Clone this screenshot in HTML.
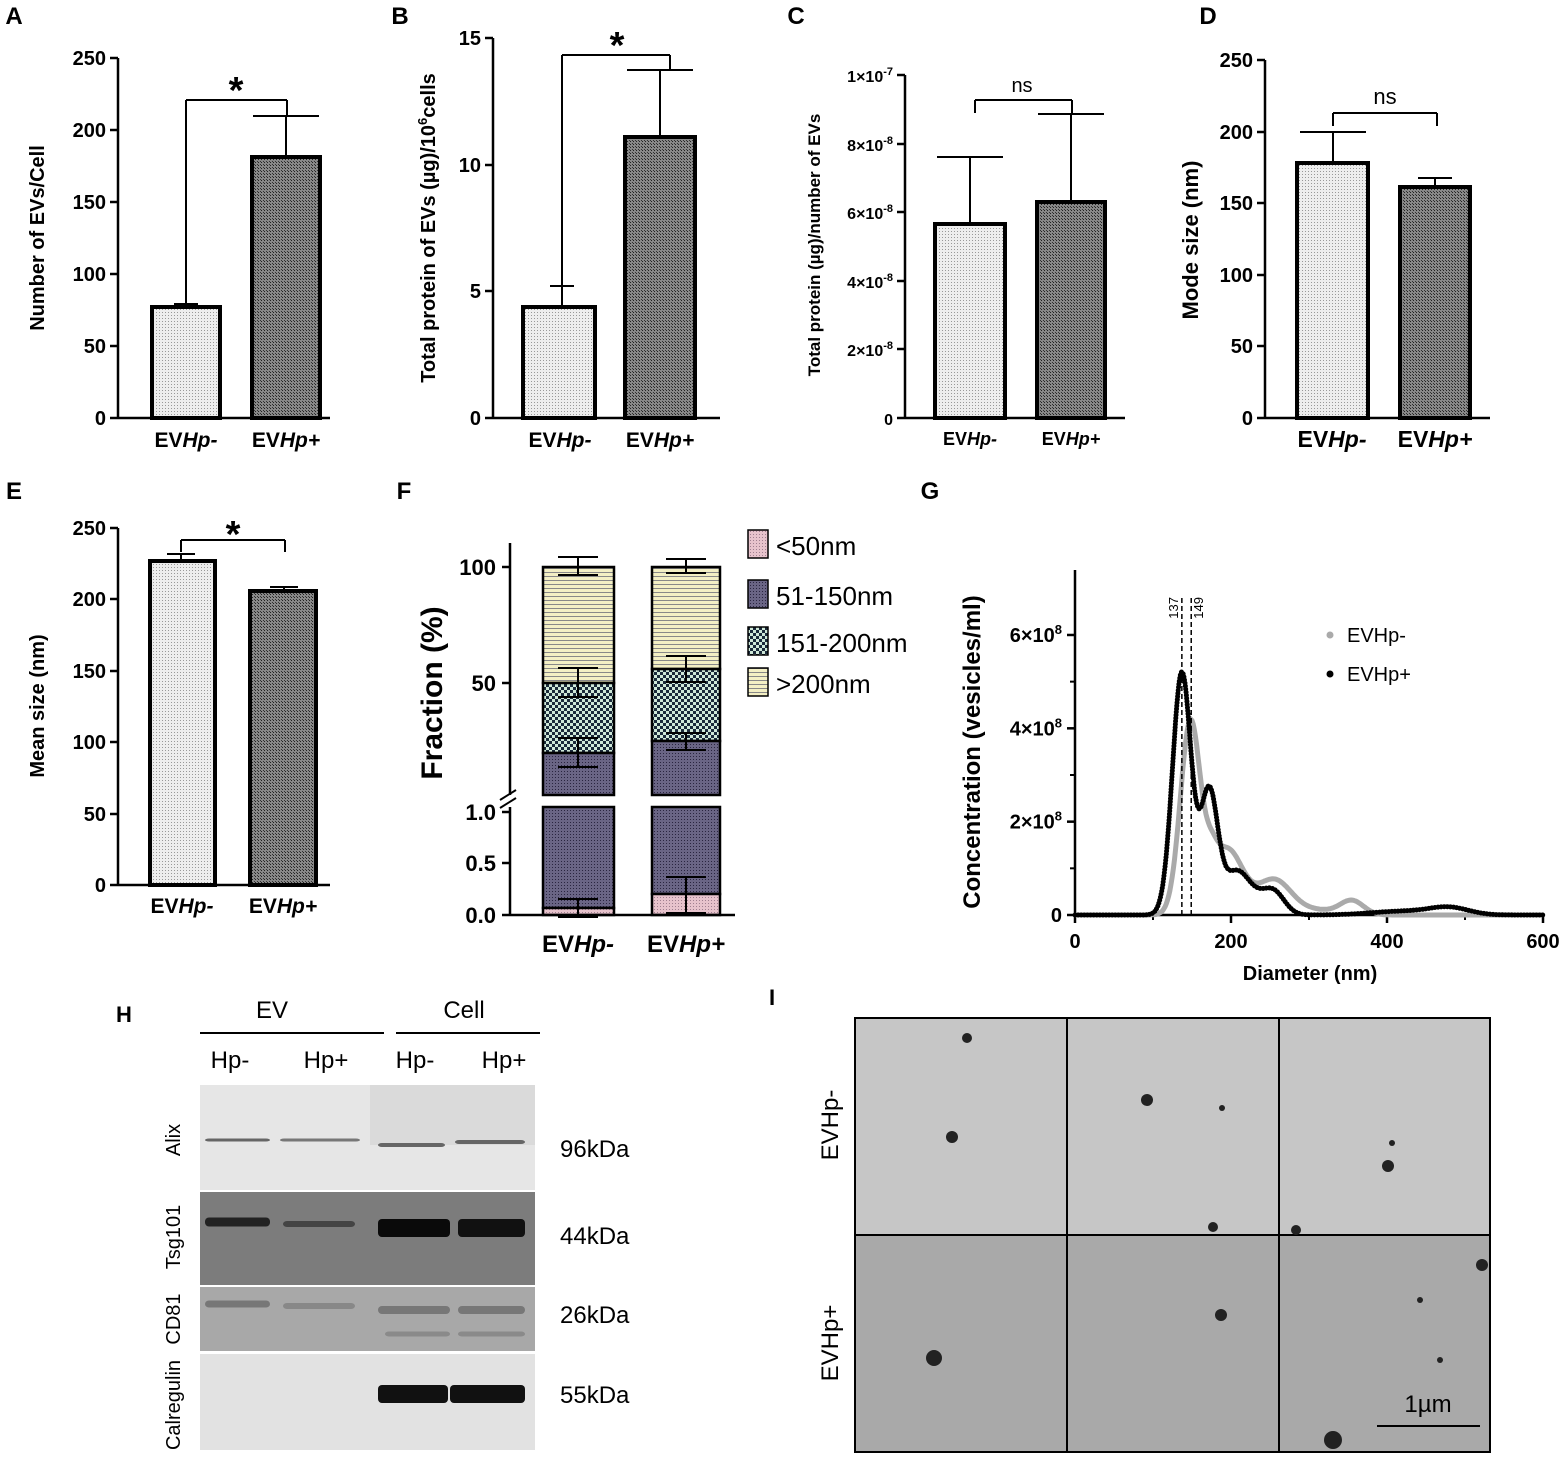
<!DOCTYPE html>
<html><head><meta charset="utf-8"><style>
body{margin:0;background:#fff}
svg{display:block;font-family:"Liberation Sans",Arial,sans-serif}
</style></head><body>
<svg id="s" width="1562" height="1464" viewBox="0 0 1562 1464" xmlns="http://www.w3.org/2000/svg">
<defs>
<pattern id="lt" width="3" height="3" patternUnits="userSpaceOnUse"><rect width="3" height="3" fill="#eee"/><rect width="1" height="1" fill="#999"/></pattern>
<pattern id="dk" width="3" height="3" patternUnits="userSpaceOnUse"><rect width="3" height="3" fill="#888"/><rect width="1" height="1" fill="#222"/><rect x="2" y="2" width="1" height="1" fill="#333"/></pattern>
<pattern id="yl" width="4" height="4" patternUnits="userSpaceOnUse"><rect width="4" height="4" fill="#f3efc4"/><rect width="4" height="1" fill="#888"/></pattern>
<pattern id="ck" width="6" height="6" patternUnits="userSpaceOnUse"><rect width="6" height="6" fill="#cfe8d8"/><rect width="3" height="3" fill="#1a2a3a"/><rect x="3" y="3" width="3" height="3" fill="#1a2a3a"/></pattern>
<pattern id="pu" width="3" height="3" patternUnits="userSpaceOnUse"><rect width="3" height="3" fill="#6a6585"/><rect width="1" height="1" fill="#2a2540"/></pattern>
<pattern id="pk" width="3" height="3" patternUnits="userSpaceOnUse"><rect width="3" height="3" fill="#e7c3cc"/><rect width="1" height="1" fill="#a08090"/></pattern>
</defs>
<g id="g"></g>
</svg>
<script>
const G=document.getElementById('g');
let h='';
function L(x1,y1,x2,y2,w,c,extra){h+=`<line x1="${x1}" y1="${y1}" x2="${x2}" y2="${y2}" stroke="${c||'#000'}" stroke-width="${w||2.5}" ${extra||''}/>`;}
function T(x,y,t,o){o=o||{};h+=`<text x="${x}" y="${y}" font-size="${o.s||20}" text-anchor="${o.a||'middle'}" font-weight="${o.w||'bold'}" ${o.r?`transform="rotate(-90 ${x} ${y})"`:''} fill="${o.c||'#000'}">${t}</text>`;}
function R(x,y,w,hh,f,sw){h+=`<rect x="${x}" y="${y}" width="${w}" height="${hh}" fill="${f}" stroke="#000" stroke-width="${sw==null?4:sw}"/>`;}
function yaxis(x,yt,yb,ticks,labs,fs){L(x,yt,x,yb);ticks.forEach((y,i)=>{L(x-8,y,x,y);T(x-12,y+7,labs[i],{a:'end',s:fs||20});});}
function evlab(x,y,t,fs){h+=`<text x="${x}" y="${y}" font-size="${fs||21}" text-anchor="middle" font-weight="bold">EV<tspan font-style="italic">Hp${t}</tspan></text>`;}
function err(x,y1,y2,w){L(x,y1,x,y2,2);L(x-w,y2,x+w,y2,2);}
// A
T(14,24,'A',{s:24});
R(152,307,68,111,'url(#lt)');R(252,157,68,261,'url(#dk)');
err(186,307,304,12);err(286,157,116,33);
yaxis(118,58,418,[58,130,202,274,346,418],['250','200','150','100','50','0']);L(118,418,330,418);
L(186,100,287,100,2);L(186,100,186,304,2);L(287,100,287,116,2);T(236,103,'*',{s:38});
evlab(186,447,'-');evlab(286,447,'+');
T(44,238,'Number of EVs/Cell',{r:1,s:20});
// B
T(400,24,'B',{s:24});
R(523,307,72,111,'url(#lt)');R(625,137,70,281,'url(#dk)');
err(562,307,286,12);err(660,137,70,33);
yaxis(493,38,418,[38,165,291,418],['15','10','5','0']);L(493,418,720,418);
L(562,55,670,55,2);L(562,55,562,286,2);L(670,55,670,70,2);T(617,58,'*',{s:38});
evlab(560,447,'-');evlab(660,447,'+');
h+=`<text transform="rotate(-90 435 228)" x="435" y="228" font-size="20" font-weight="bold" text-anchor="middle">Total protein of EVs (µg)/10<tspan font-size="13" dy="-8">6</tspan><tspan dy="8">cells</tspan></text>`;
// C
T(796,24,'C',{s:24});
R(935,224,70,194,'url(#lt)');R(1037,202,68,216,'url(#dk)');
err(970,224,157,33);err(1071,202,114,33);
const cl=['1×10<tspan font-size="11" dy="-7">-7</tspan>','8×10<tspan font-size="11" dy="-7">-8</tspan>','6×10<tspan font-size="11" dy="-7">-8</tspan>','4×10<tspan font-size="11" dy="-7">-8</tspan>','2×10<tspan font-size="11" dy="-7">-8</tspan>','0'];
yaxis(905,75,418,[75,144,212,281,349,418],cl,16);L(905,418,1125,418);
L(975,100,1072,100,2);L(975,100,975,113,2);L(1072,100,1072,113,2);T(1022,92,'ns',{w:'normal',s:20});
evlab(970,445,'-',18);evlab(1071,445,'+',18);
T(820,245,'Total protein (µg)/number of EVs',{r:1,s:17});
// D
T(1208,24,'D',{s:24});
R(1297,163,71,255,'url(#lt)');R(1400,187,70,231,'url(#dk)');
err(1333,163,132,33);err(1435,187,178,17);
yaxis(1265,60,418,[60,132,203,275,346,418],['250','200','150','100','50','0']);L(1265,418,1490,418);
L(1333,113,1437,113,2);L(1333,113,1333,126,2);L(1437,113,1437,126,2);T(1385,104,'ns',{w:'normal',s:22});
evlab(1332,447,'-',23);evlab(1435,447,'+',23);
T(1198,240,'Mode size (nm)',{r:1,s:22});
// E
T(14,499,'E',{s:24});
R(150,561,65,324,'url(#lt)');R(250,591,66,294,'url(#dk)');
err(181,561,554,14);err(284,591,587,14);
yaxis(118,528,885,[528,599,671,742,814,885],['250','200','150','100','50','0']);L(118,885,330,885);
L(181,540,285,540,2);L(181,540,181,552,2);L(285,540,285,552,2);T(233,547,'*',{s:38});
evlab(182,913,'-');evlab(283,913,'+');
T(44,706,'Mean size (nm)',{r:1,s:20});
// F
T(404,499,'F',{s:24});
R(543,567,71,116,'url(#yl)',2.5);R(543,683,71,70,'url(#ck)',2.5);R(543,753,71,42,'url(#pu)',2.5);
R(652,567,68,102,'url(#yl)',2.5);R(652,669,68,72,'url(#ck)',2.5);R(652,741,68,54,'url(#pu)',2.5);
R(543,807,71,101,'url(#pu)',2.5);R(543,908,71,7,'url(#pk)',2.5);
R(652,807,68,87,'url(#pu)',2.5);R(652,894,68,21,'url(#pk)',2.5);
[[578,567,557],[578,567,575],[578,683,668],[578,683,697],[578,753,738],[578,753,767],[686,567,559],[686,567,573],[686,669,656],[686,669,682],[686,741,733],[686,741,750],[578,908,899],[578,908,917],[686,894,877],[686,894,913]].forEach(a=>err(a[0],a[1],a[2],20));
L(510,543,510,795);L(510,807,510,915);
[[567,'100'],[683,'50']].forEach(a=>{L(502,a[0],510,a[0]);T(496,a[0]+8,a[1],{a:'end',s:22});});
[[812,'1.0'],[863,'0.5'],[915,'0.0']].forEach(a=>{L(502,a[0],510,a[0]);T(496,a[0]+8,a[1],{a:'end',s:22});});
h+=`<rect x="495" y="797" width="240" height="8" fill="#fff"/>`;
L(500,800,516,790,2);L(500,808,516,798,2);
L(510,915,735,915);
evlab(578,952,'-',24);evlab(686,952,'+',24);
T(442,693,'Fraction (%)',{r:1,s:30});
[['url(#pk)',545,'&lt;50nm'],['url(#pu)',595,'51-150nm'],['url(#ck)',642,'151-200nm'],['url(#yl)',683,'&gt;200nm']].forEach(a=>{h+=`<rect x="748" y="${a[1]-15}" width="20" height="28" fill="${a[0]}" stroke="#000" stroke-width="1.5"/>`;T(776,a[1]+10,a[2],{a:'start',s:26,w:'normal'});});
// G
T(930,499,'G',{s:24});
const gx=d=>1075+d*0.78,gy=v=>915-v*46.67;
L(1075,570,1075,915);L(1075,915,1545,915);
[[0,'0'],[2,'2×10<tspan font-size="13" dy="-8">8</tspan>'],[4,'4×10<tspan font-size="13" dy="-8">8</tspan>'],[6,'6×10<tspan font-size="13" dy="-8">8</tspan>']].forEach(a=>{L(1067,gy(a[0]),1075,gy(a[0]));T(1062,gy(a[0])+7,a[1],{a:'end',s:20});});
[1,3,5].forEach(v=>L(1070,gy(v),1075,gy(v),2));
[0,200,400,600].forEach(d=>{L(gx(d),915,gx(d),923);T(gx(d),948,d,{s:20});});
[100,300,500].forEach(d=>L(gx(d),915,gx(d),920,2));
T(1310,980,'Diameter (nm)',{s:20});
T(980,752,'Concentration (vesicles/ml)',{r:1,s:24});
const gs=(d,m,s,a)=>a*Math.exp(-(((d-m)/s)**2)/2);
const bk=d=>gs(d,137,12,5.2)+gs(d,172,11,2.6)+gs(d,205,16,0.8)+gs(d,255,14,0.45)+gs(d,228,18,0.3)+gs(d,480,25,0.15)+gs(d,420,40,0.08);
const gr=d=>gs(d,148,13,4.1)+gs(d,195,20,1.4)+gs(d,175,8,0.5)+gs(d,255,22,0.75)+gs(d,310,25,0.1)+gs(d,355,15,0.3);
let pb='',pg='';for(let d=0;d<=600;d+=1.5){pb+=gx(d).toFixed(1)+','+gy(bk(d)).toFixed(1)+' ';pg+=gx(d).toFixed(1)+','+gy(gr(d)).toFixed(1)+' ';}
h+=`<polyline points="${pg}" fill="none" stroke="#aaa" stroke-width="5"/>`;
h+=`<polyline points="${pb}" fill="none" stroke="#000" stroke-width="5" stroke-dasharray="0.1 3" stroke-linecap="round"/>`;
L(gx(137),598,gx(137),915,1.5,'#000','stroke-dasharray="5 3"');L(gx(149),598,gx(149),915,1.5,'#000','stroke-dasharray="5 3"');
T(gx(137)-4,597,'137',{r:1,s:13,w:'normal',a:'end'});T(gx(149)+12,597,'149',{r:1,s:13,w:'normal',a:'end'});
h+=`<circle cx="1330" cy="635" r="3.5" fill="#aaa"/><circle cx="1330" cy="674" r="3.5" fill="#000"/>`;
T(1347,642,'EVHp-',{a:'start',s:20,w:'normal'});T(1347,681,'EVHp+',{a:'start',s:20,w:'normal'});
// H
T(124,1022,'H',{s:22});
T(272,1018,'EV',{s:24,w:'normal'});T(464,1018,'Cell',{s:24,w:'normal'});
L(200,1033,384,1033,2);L(396,1033,540,1033,2);
[[230,'Hp-'],[326,'Hp+'],[415,'Hp-'],[504,'Hp+']].forEach(a=>T(a[0],1068,a[1],{s:24,w:'normal'}));
h+=`<rect x="200" y="1085" width="335" height="105" fill="#e6e6e6"/><rect x="370" y="1085" width="165" height="60" fill="#d4d4d4" opacity=".7"/>`;
h+=`<rect x="200" y="1192" width="335" height="93" fill="#7c7c7c"/><rect x="200" y="1287" width="335" height="64" fill="#a8a8a8"/><rect x="200" y="1354" width="335" height="96" fill="#e2e2e2"/>`;
[[205,270,1140,3,'#666'],[280,360,1140,3,'#777'],[378,445,1145,4,'#666'],[455,525,1142,4,'#666'],
 [205,270,1222,9,'#222'],[283,355,1224,6,'#444'],[378,450,1228,18,'#0a0a0a'],[458,525,1228,18,'#111'],
 [205,270,1304,7,'#777'],[283,355,1306,6,'#888'],[378,450,1310,8,'#777'],[458,525,1310,8,'#777'],[385,450,1334,5,'#8a8a8a'],[458,525,1334,5,'#8a8a8a'],
 [378,448,1394,18,'#111'],[450,525,1394,18,'#111']].forEach(a=>h+=`<rect x="${a[0]}" y="${a[2]-a[3]/2}" width="${a[1]-a[0]}" height="${a[3]}" fill="${a[4]}" rx="4"/>`);
[[180,1140,'Alix'],[180,1237,'Tsg101'],[180,1319,'CD81'],[180,1405,'Calregulin']].forEach(a=>T(a[0],a[1],a[2],{r:1,s:20,w:'normal'}));
[[1148,'96kDa'],[1235,'44kDa'],[1314,'26kDa'],[1394,'55kDa']].forEach(a=>T(560,a[0]+9,a[1],{a:'start',s:24,w:'normal'}));
// I
T(772,1005,'I',{s:22});
h+=`<rect x="855" y="1018" width="635" height="217" fill="#c6c6c6"/><rect x="855" y="1235" width="635" height="217" fill="#a9a9a9"/>`;
h+=`<rect x="855" y="1018" width="635" height="434" fill="none" stroke="#000" stroke-width="2"/>`;
L(1067,1018,1067,1452,2);L(1279,1018,1279,1452,2);L(855,1235,1490,1235,2);
[[967,1038,5],[952,1137,6],[1147,1100,6],[1388,1166,6],[1213,1227,5],[1296,1230,5],[1222,1108,3],[1392,1143,3],[934,1358,8],[1221,1315,6],[1482,1265,6],[1333,1440,9],[1420,1300,3],[1440,1360,3]].forEach(a=>h+=`<circle cx="${a[0]}" cy="${a[1]}" r="${a[2]}" fill="#222"/>`);
L(1377,1426,1480,1426,2);T(1428,1412,'1µm',{s:24,w:'normal'});
T(838,1125,'EVHp-',{r:1,s:24,w:'normal'});T(838,1343,'EVHp+',{r:1,s:24,w:'normal'});
G.innerHTML=h;
</script>
</body></html>
